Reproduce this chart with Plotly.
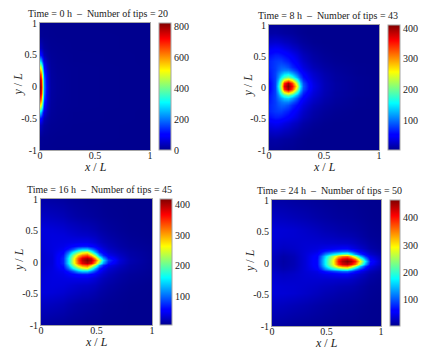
import plotly.graph_objects as go

W, H = 443, 363
FONT = "Liberation Serif"
LINE = "#a6a6a6"

JET = [
    [0.0, "rgb(0,0,143)"],
    [0.11, "rgb(0,0,255)"],
    [0.125, "rgb(0,0,255)"],
    [0.375, "rgb(0,255,255)"],
    [0.625, "rgb(255,255,0)"],
    [0.875, "rgb(255,0,0)"],
    [1.0, "rgb(128,0,0)"],
]

titles = [
    "Time = 0 h  \u2013  Number of tips = 20",
    "Time = 8 h  \u2013  Number of tips = 43",
    "Time = 16 h  \u2013  Number of tips = 45",
    "Time = 24 h  \u2013  Number of tips = 50",
]

# grids, one half only, offsets in y from the middle of the field
ridge_y = [0, 0.025, 0.03, 0.03]

x0 = [0, 0.01, 0.02, 0.03, 0.04, 0.06, 0.08, 0.1, 0.15, 0.3, 1]
y0 = [0, 0.1, 0.2, 0.3, 0.4, 0.5, 0.6, 0.8, 1.05]
z0 = [
    [810, 760, 600, 380, 200, 70, 30, 15, 8, 3, 0],
    [780, 730, 570, 350, 190, 65, 28, 14, 8, 3, 0],
    [680, 630, 480, 300, 150, 55, 25, 13, 7, 3, 0],
    [500, 450, 340, 200, 100, 40, 20, 11, 6, 3, 0],
    [280, 250, 180, 110, 60, 28, 15, 9, 5, 2, 0],
    [120, 105, 80, 50, 30, 16, 10, 7, 4, 2, 0],
    [40, 36, 28, 20, 14, 9, 6, 4, 3, 1, 0],
    [6, 5, 5, 4, 3, 3, 2, 2, 1, 1, 0],
    [1, 1, 1, 1, 1, 1, 1, 0, 0, 0, 0],
]

x8 = [0, 0.05, 0.08, 0.11, 0.14, 0.17, 0.21, 0.25, 0.28, 0.31, 0.35, 0.4, 0.5, 0.6, 0.8, 1]
y8 = [0, 0.05, 0.1, 0.15, 0.2, 0.25, 0.3, 0.4, 0.5, 0.6, 0.7, 0.85, 1.05]
z8 = [
    [50, 80, 150, 240, 370, 410, 360, 250, 150, 90, 60, 40, 20, 12, 6, 4],
    [50, 80, 140, 225, 345, 395, 335, 220, 135, 85, 58, 38, 20, 12, 6, 4],
    [55, 80, 125, 190, 260, 295, 255, 170, 110, 72, 50, 35, 19, 11, 6, 4],
    [60, 80, 110, 150, 180, 200, 170, 120, 85, 60, 44, 32, 18, 11, 6, 4],
    [62, 80, 100, 118, 135, 140, 120, 88, 65, 50, 38, 28, 16, 10, 5, 4],
    [65, 78, 90, 100, 105, 105, 88, 68, 52, 42, 32, 24, 14, 9, 5, 4],
    [68, 78, 86, 92, 92, 85, 70, 56, 45, 36, 28, 20, 12, 8, 5, 4],
    [68, 76, 78, 78, 72, 66, 55, 44, 35, 28, 21, 15, 9, 6, 4, 4],
    [58, 65, 65, 62, 58, 52, 44, 35, 28, 22, 17, 12, 7, 5, 4, 4],
    [42, 46, 45, 42, 38, 34, 28, 23, 18, 14, 11, 8, 5, 4, 4, 4],
    [28, 30, 29, 27, 24, 22, 18, 14, 11, 9, 7, 5, 4, 4, 4, 4],
    [13, 14, 13, 12, 11, 10, 9, 7, 6, 5, 4, 4, 4, 4, 4, 4],
    [6, 6, 6, 6, 5, 5, 5, 4, 4, 4, 4, 4, 4, 4, 4, 4],
]

x16 = [0, 0.1, 0.2, 0.245, 0.29, 0.335, 0.37, 0.41, 0.45, 0.485, 0.525, 0.56, 0.605, 0.7, 0.8, 1]
y16 = [0, 0.04, 0.085, 0.125, 0.17, 0.22, 0.28, 0.4, 0.5, 0.7, 1.05]
z16 = [
    [30, 35, 70, 150, 250, 340, 395, 419, 400, 340, 250, 150, 80, 35, 18, 8],
    [30, 35, 70, 150, 245, 330, 380, 400, 375, 300, 205, 120, 65, 32, 17, 8],
    [30, 36, 64, 130, 215, 285, 320, 335, 285, 215, 120, 72, 45, 27, 15, 8],
    [31, 37, 55, 100, 160, 210, 245, 260, 195, 130, 72, 50, 34, 22, 14, 8],
    [32, 38, 46, 65, 90, 125, 140, 140, 110, 80, 52, 38, 28, 18, 12, 7],
    [33, 38, 42, 48, 55, 62, 65, 65, 56, 48, 38, 30, 23, 15, 10, 7],
    [34, 38, 39, 40, 41, 42, 42, 42, 38, 34, 28, 23, 19, 13, 9, 6],
    [35, 37, 36, 34, 32, 30, 29, 28, 26, 24, 20, 17, 14, 10, 7, 5],
    [36, 35, 32, 29, 27, 25, 23, 22, 20, 18, 15, 13, 11, 8, 6, 5],
    [26, 24, 21, 18, 16, 14, 13, 12, 11, 10, 9, 8, 7, 6, 5, 5],
    [12, 10, 9, 8, 7, 7, 7, 6, 6, 6, 6, 5, 5, 5, 5, 5],
]

x24 = [0, 0.1, 0.2, 0.3, 0.41, 0.45, 0.486, 0.56, 0.606, 0.645, 0.685, 0.725, 0.76, 0.81, 0.85, 0.9, 1]
y24 = [0, 0.04, 0.08, 0.12, 0.16, 0.21, 0.28, 0.4, 0.5, 0.7, 1.05]
z24 = [
    [25, 15, 22, 38, 65, 120, 175, 290, 400, 445, 465, 445, 400, 290, 175, 70, 25],
    [25, 16, 22, 38, 65, 118, 175, 285, 385, 425, 440, 410, 360, 250, 140, 58, 24],
    [26, 17, 23, 38, 62, 108, 160, 255, 320, 350, 360, 315, 250, 150, 85, 45, 20],
    [28, 20, 25, 38, 55, 82, 120, 170, 195, 215, 225, 180, 130, 85, 55, 33, 16],
    [30, 24, 28, 37, 45, 58, 72, 90, 100, 108, 110, 92, 72, 50, 36, 24, 12],
    [33, 28, 31, 36, 40, 43, 46, 50, 52, 54, 54, 47, 40, 32, 25, 17, 10],
    [35, 32, 33, 35, 35, 35, 34, 34, 33, 33, 32, 30, 27, 22, 18, 13, 8],
    [38, 36, 35, 33, 30, 28, 27, 25, 23, 22, 21, 20, 18, 15, 12, 9, 7],
    [38, 37, 35, 31, 26, 24, 22, 20, 18, 17, 16, 15, 14, 12, 10, 8, 6],
    [28, 26, 23, 20, 16, 15, 14, 12, 11, 11, 10, 10, 9, 8, 7, 6, 5],
    [13, 12, 10, 9, 8, 8, 7, 7, 6, 6, 6, 6, 6, 5, 5, 5, 5],
]

fields = [(x0, y0, z0), (x8, y8, z8), (x16, y16, z16), (x24, y24, z24)]
color_ranges = [(0, 823), (4, 410), (5, 419), (5, 465)]
color_ticks = [[0, 200, 400, 600, 800], [100, 200, 300, 400], [100, 200, 300, 400], [100, 200, 300, 400]]

# pixel boxes: plot left, right, top, bottom, colorbar left, colorbar right
boxes = [
    (40, 150, 23, 150, 158.5, 170),
    (269, 379, 25, 150, 388, 400),
    (41, 152, 199, 325, 160, 171.5),
    (272, 381, 200, 326, 390, 400),
]


def px(v):
    return v / W


def py(v):
    return 1 - v / H


def mirror(y, z, mid):
    return [mid - v for v in y[:0:-1]] + [mid + v for v in y], z[:0:-1] + z


fig = go.Figure()
annotations = []
for i, ((x, y, z), (cmin, cmax), ticks, box, title, mid) in enumerate(
    zip(fields, color_ranges, color_ticks, boxes, titles, ridge_y), start=1
):
    left, right, top, bottom, bar_left, bar_right = box
    y_full, z_full = mirror(y, z, mid)
    fig.add_trace(
        go.Heatmap(
            x=x,
            y=y_full,
            z=z_full,
            zmin=cmin,
            zmax=cmax,
            zsmooth="best",
            colorscale=JET,
            xaxis=f"x{i}",
            yaxis=f"y{i}",
            colorbar=dict(
                x=px(bar_left),
                xanchor="left",
                y=py(bottom),
                yanchor="bottom",
                len=(bottom - top) / H,
                thickness=bar_right - bar_left,
                xpad=0,
                ypad=0,
                outlinecolor=LINE,
                outlinewidth=1,
                tickvals=ticks,
                ticks="",
                tickfont=dict(family=FONT, size=10, color="#222"),
            ),
        )
    )
    axis_style = dict(
        showline=True,
        linecolor=LINE,
        linewidth=1,
        mirror=True,
        showgrid=False,
        zeroline=False,
        automargin=False,
        ticks="",
        tickfont=dict(family=FONT, size=10, color="#222"),
    )
    fig.update_layout(
        {
            f"xaxis{i}": dict(
                domain=[px(left), px(right)],
                range=[0, 1],
                tickvals=[0, 0.5, 1],
                ticktext=["0", "0.5", "1"],
                anchor=f"y{i}",
                ticklabelstandoff=-4,
                **axis_style,
            ),
            f"yaxis{i}": dict(
                domain=[py(bottom), py(top)],
                range=[-1, 1],
                tickvals=[-1, -0.5, 0, 0.5, 1],
                ticktext=["-1", "-0.5", "0", "0.5", "1"],
                anchor=f"x{i}",
                **axis_style,
            ),
        }
    )
    annotations.append(
        dict(
            text=title,
            x=px((left + bar_right) / 2 - 7),
            y=py(top - 9.5),
            font=dict(family=FONT, size=10, color="#222"),
        )
    )
    annotations.append(
        dict(
            text="<i>x</i> / <i>L</i>",
            x=px((left + right) / 2),
            y=py(bottom + 17),
            font=dict(family=FONT, size=12, color="#222"),
        )
    )
    annotations.append(
        dict(
            text="<i>y</i> / <i>L</i>",
            x=px(left - 22),
            y=py((top + bottom) / 2 - 2),
            textangle=-90,
            font=dict(family=FONT, size=12, color="#222"),
        )
    )

for a in annotations:
    a.update(xref="paper", yref="paper", showarrow=False, xanchor="center", yanchor="middle")

fig.update_layout(
    width=W,
    height=H,
    margin=dict(l=0, r=0, t=0, b=0),
    paper_bgcolor="white",
    plot_bgcolor="white",
    annotations=annotations,
)

# the page has a default body margin that would push the figure off by 8px
fig.write_html(
    "out.html",
    config={"displayModeBar": False},
    post_script="document.body.style.margin='0';",
)
